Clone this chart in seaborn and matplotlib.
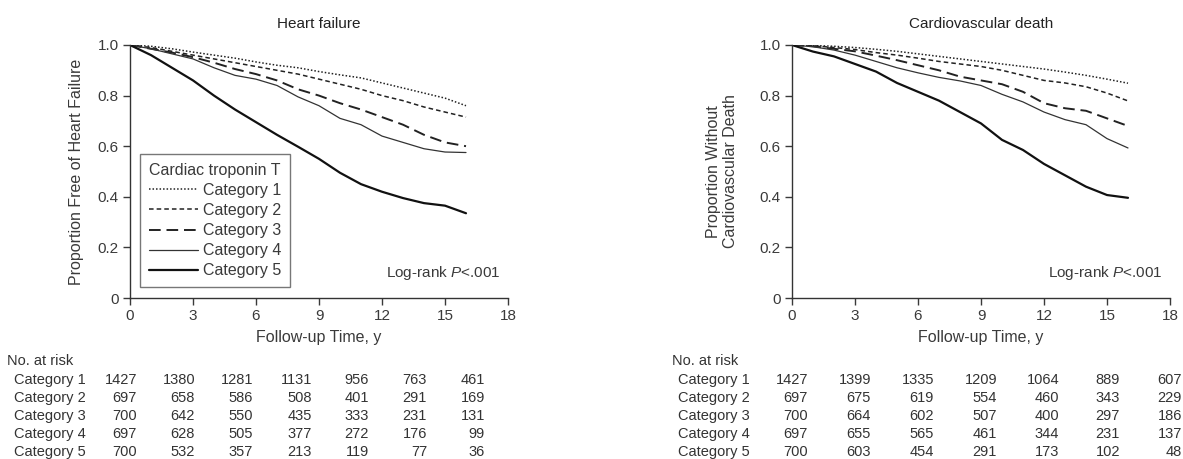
import matplotlib
matplotlib.use('Agg')
import matplotlib.pyplot as plt
import seaborn as sns
import pandas as pd

# Tiempo de seguimiento (años) en que se leyeron las curvas
tiempo = list(range(0, 17))

categorias = ["Category 1", "Category 2", "Category 3", "Category 4", "Category 5"]

# Insuficiencia cardiaca: proporción libre de evento
hf_cat1 = [1.0, 0.995, 0.985, 0.972, 0.96, 0.948, 0.933, 0.92, 0.91, 0.895, 0.882, 0.87, 0.85, 0.83, 0.81, 0.79, 0.76]
hf_cat2 = [1.0, 0.99, 0.975, 0.96, 0.945, 0.93, 0.915, 0.9, 0.885, 0.865, 0.845, 0.825, 0.80, 0.78, 0.755, 0.735, 0.715]
hf_cat3 = [1.0, 0.985, 0.97, 0.952, 0.93, 0.905, 0.885, 0.86, 0.825, 0.80, 0.77, 0.745, 0.715, 0.685, 0.645, 0.615, 0.60]
hf_cat4 = [1.0, 0.985, 0.965, 0.945, 0.91, 0.88, 0.865, 0.84, 0.795, 0.76, 0.71, 0.685, 0.64, 0.615, 0.59, 0.577, 0.575]
hf_cat5 = [1.0, 0.96, 0.91, 0.86, 0.80, 0.745, 0.695, 0.645, 0.598, 0.55, 0.495, 0.45, 0.42, 0.395, 0.375, 0.365, 0.335]

# Muerte cardiovascular: proporción sin evento
cv_cat1 = [1.0, 0.998, 0.995, 0.99, 0.983, 0.975, 0.965, 0.955, 0.945, 0.935, 0.925, 0.915, 0.905, 0.893, 0.88, 0.865, 0.849]
cv_cat2 = [1.0, 0.997, 0.99, 0.982, 0.97, 0.96, 0.948, 0.935, 0.925, 0.915, 0.9, 0.88, 0.86, 0.85, 0.835, 0.81, 0.779]
cv_cat3 = [1.0, 0.995, 0.985, 0.975, 0.958, 0.94, 0.92, 0.9, 0.875, 0.86, 0.845, 0.815, 0.77, 0.75, 0.74, 0.71, 0.68]
cv_cat4 = [1.0, 0.993, 0.98, 0.96, 0.935, 0.91, 0.89, 0.872, 0.858, 0.84, 0.805, 0.775, 0.735, 0.705, 0.685, 0.63, 0.593]
cv_cat5 = [1.0, 0.974, 0.955, 0.925, 0.895, 0.85, 0.815, 0.78, 0.735, 0.69, 0.625, 0.585, 0.53, 0.485, 0.44, 0.407, 0.396]

# Número en riesgo
hf_riesgo = [
    [1427, 1380, 1281, 1131, 956, 763, 461],
    [697, 658, 586, 508, 401, 291, 169],
    [700, 642, 550, 435, 333, 231, 131],
    [697, 628, 505, 377, 272, 176, 99],
    [700, 532, 357, 213, 119, 77, 36],
]
cv_riesgo = [
    [1427, 1399, 1335, 1209, 1064, 889, 607],
    [697, 675, 619, 554, 460, 343, 229],
    [700, 664, 602, 507, 400, 297, 186],
    [697, 655, 565, 461, 344, 231, 137],
    [700, 603, 454, 291, 173, 102, 48],
]

sns.set_theme(style="ticks")
plt.rcParams['font.family'] = ['Liberation Sans', 'DejaVu Sans']
plt.rcParams['mathtext.fontset'] = 'custom'
plt.rcParams['mathtext.rm'] = 'Liberation Sans'
plt.rcParams['mathtext.it'] = 'Liberation Sans:italic'

gris = "#3a3a3a"
estilos = {
    "Category 1": dict(linestyle=(0, (1, 1.3)), lw=1.1, color="#222222"),
    "Category 2": dict(linestyle=(0, (3, 2)), lw=1.1, color="#222222"),
    "Category 3": dict(linestyle=(0, (6, 3)), lw=1.4, color="#222222"),
    "Category 4": dict(linestyle="-", lw=0.9, color="#333333"),
    "Category 5": dict(linestyle="-", lw=1.6, color="#111111"),
}


def tabla_larga(series):
    filas = []
    for cat, valores in zip(categorias, series):
        for t, v in zip(tiempo, valores):
            filas.append({"tiempo": t, "prop": v, "cat": cat})
    return pd.DataFrame(filas)


df_hf = tabla_larga([hf_cat1, hf_cat2, hf_cat3, hf_cat4, hf_cat5])
df_cv = tabla_larga([cv_cat1, cv_cat2, cv_cat3, cv_cat4, cv_cat5])

fig = plt.figure(figsize=(11.83, 4.59), dpi=100)
ax1 = fig.add_axes([130 / 1183, 1 - 298 / 459, 378 / 1183, 253 / 459])
ax2 = fig.add_axes([792 / 1183, 1 - 298 / 459, 378 / 1183, 253 / 459])

for ax, df, titulo in [(ax1, df_hf, "Heart failure"), (ax2, df_cv, "Cardiovascular death")]:
    for cat in categorias:
        sns.lineplot(data=df[df["cat"] == cat], x="tiempo", y="prop", ax=ax,
                     estimator=None, label=cat, **estilos[cat])
    ax.set_xlim(0, 18)
    ax.set_ylim(0, 1.0)
    ax.set_xticks([0, 3, 6, 9, 12, 15, 18])
    ax.set_yticks([0, 0.2, 0.4, 0.6, 0.8, 1.0])
    ax.set_yticklabels(["0", "0.2", "0.4", "0.6", "0.8", "1.0"])
    ax.tick_params(labelsize=11, colors=gris, length=5, width=1, pad=3)
    for s in ["left", "bottom"]:
        ax.spines[s].set_color("#333333")
        ax.spines[s].set_linewidth(1)
    sns.despine(ax=ax)
    ax.set_title(titulo, fontsize=11, color="#222222", pad=12)
    ax.set_xlabel("Follow-up Time, y", fontsize=11.5, color=gris, labelpad=5)
    ax.text(0.98, 0.1, "Log-rank $P$<.001", transform=ax.transAxes, ha="right",
            va="center", fontsize=11, color=gris)
    ax.get_legend().remove()

ax1.set_ylabel("Proportion Free of Heart Failure", fontsize=11.5, color=gris, labelpad=10)
ax2.set_ylabel("Proportion Without\nCardiovascular Death", fontsize=11.5, color=gris,
               labelpad=16, linespacing=1.15)

h, l = ax1.get_legend_handles_labels()
leg = ax1.legend(h, l, title="Cardiac troponin T", loc="lower left",
                 bbox_to_anchor=(0.026, 0.043), borderaxespad=0, frameon=True,
                 fancybox=False, edgecolor="#555555", fontsize=11.5, title_fontsize=11.5,
                 handlelength=3.1, handletextpad=0.3, labelspacing=0.32,
                 alignment="left", borderpad=0.55)
leg.get_frame().set_linewidth(1)
plt.setp(leg.get_texts(), color=gris)
leg.get_title().set_color(gris)

# Tablas de número en riesgo (coordenadas en píxeles de la figura)
filas_y = [380, 398, 416, 434, 452]


def tabla(x_titulo, x_cat, cols, riesgo):
    fig.text(x_titulo / 1183, 1 - 361 / 459, "No. at risk", fontsize=10.5,
             color="#333333", va="center", ha="left")
    for i, cat in enumerate(categorias):
        y = 1 - filas_y[i] / 459
        fig.text(x_cat / 1183, y, cat, fontsize=10.5, color="#333333", va="center", ha="left")
        for xc, n in zip(cols, riesgo[i]):
            fig.text(xc / 1183, y, str(n), fontsize=10.5, color="#333333",
                     va="center", ha="right")


tabla(7, 14, [137, 195, 253, 312, 369, 427, 485], hf_riesgo)
tabla(672, 678, [808, 871, 934, 997, 1059, 1120, 1182], cv_riesgo)

fig.savefig("out.png", dpi=100)
plt.close()
